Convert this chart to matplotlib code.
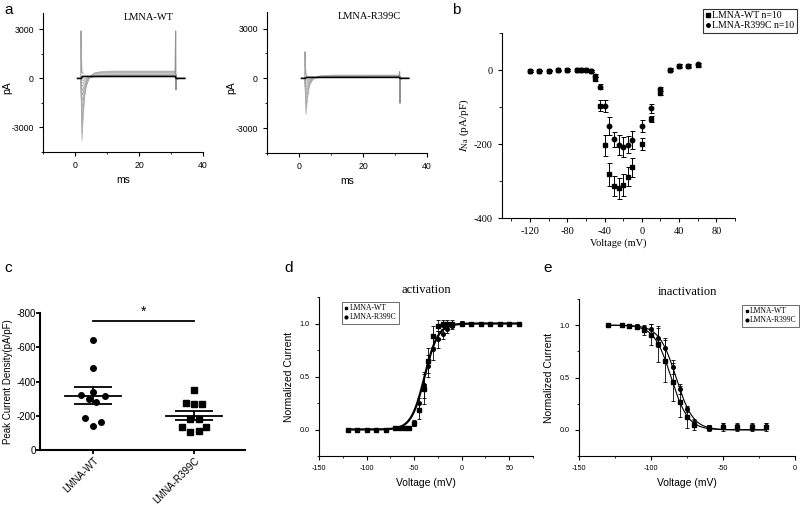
import numpy as np
import matplotlib
matplotlib.use("Agg")
import matplotlib.pyplot as plt
from matplotlib.ticker import MultipleLocator, FixedLocator
from matplotlib.lines import Line2D

plt.rcParams['axes.unicode_minus'] = False
plt.rcParams['mathtext.fontset'] = 'stix'
SANS = 'Liberation Sans'
SERIF = 'Liberation Serif'

# ---------------- a: whole-cell current traces ----------------
# template (ms, fraction of peak)
trace_t = [0.8, 1.8, 2.0, 2.2, 2.5, 3.0, 3.5, 4.5, 6.0, 8.0, 11.0]
inward_frac = [0, 0, 0.5, 1.0, 0.75, 0.42, 0.25, 0.1, 0.03, 0.01, 0]
steady_frac = [0, 0, 0, 0.3, 0.7, 1, 1, 1, 1, 1, 1]
step_end = 31.3

wt_peak = [-3950, -3500, -3000, -2500, -2000, -1500, -1100, -800, -550, -350, -200, -80, 0]
wt_slow = [1.0, 1.0, 1.05, 1.1, 1.2, 1.3, 1.5, 1.7, 1.9, 2.1, 2.3, 2.5, 1.0]
wt_steady = [450, 420, 400, 380, 350, 300, 250, 220, 200, 170, 140, 110, 120]
wt_cap_t = [1.8, 1.9, 2.0, 2.15, 2.5]
wt_cap_i = [0, 2900, 1200, 400, 300]
wt_tail_t = [31.3, 31.45, 31.55, 31.65, 31.8, 32.0, 34.3]
wt_tail_i = [300, 2900, -700, 200, -100, 0, 0]

r399c_peak = [-2250, -1900, -1600, -1300, -1000, -750, -550, -400, -280, -180, -100, -50, 0]
r399c_slow = [1.0, 1.0, 1.05, 1.1, 1.2, 1.3, 1.5, 1.7, 1.9, 2.1, 2.3, 2.5, 1.0]
r399c_steady = [200, 180, 160, 150, 130, 120, 110, 100, 90, 80, 60, 40, 60]
r399c_cap_t = [1.8, 1.9, 2.0, 2.15, 2.5]
r399c_cap_i = [0, 1600, 700, 250, 150]
r399c_tail_t = [31.3, 31.45, 31.55, 31.65, 31.8, 32.0, 34.3]
r399c_tail_i = [150, 400, -1500, 100, -80, 0, 0]

# ---------------- b: I-V relationship ----------------
iv_v = [-120, -110, -100, -90, -80, -70, -65, -60, -55, -50, -45, -40, -35,
        -30, -25, -20, -15, -10, 0, 10, 20, 30, 40, 50, 60]
iv_wt = [-3, -2, -2, -1, 0, 1, 1, 0, -3, -25, -97, -204, -282,
         -313, -320, -311, -288, -263, -201, -132, -62, 0, 10, 11, 14]
iv_wt_err = [2, 2, 2, 2, 2, 2, 2, 2, 3, 5, 15, 29, 32,
             27, 28, 30, 26, 25, 16, 9, 6, 4, 5, 5, 5]
iv_r399c = [-3, -2, -2, -1, 0, 1, 1, 0, -3, -16, -45, -97, -151,
            -187, -202, -209, -202, -190, -151, -104, -52, 1, 12, 12, 15]
iv_r399c_err = [2, 2, 2, 2, 2, 2, 2, 2, 3, 4, 6, 16, 24,
                20, 27, 27, 23, 24, 16, 12, 6, 4, 5, 5, 5]

# ---------------- c: peak current density ----------------
groups = ['LMNA-WT', 'LMNA-R399C']
wt_density = [-644, -478, -322, -341, -318, -297, -283, -185, -164, -140]
wt_jitter = [0, 0, -0.12, 0, 0.115, -0.043, 0.033, -0.08, 0.076, 0]
r399c_density = [-351, -273, -267, -267, -181, -181, -137, -137, -107, -111]
r399c_jitter = [0, -0.076, 0, 0.08, -0.04, 0.045, -0.115, 0.12, -0.04, 0.045]
density_mean = [-316, -201]
density_sem = [49, 27]

# ---------------- d: activation ----------------
act_v = [-120, -110, -100, -90, -80, -70, -65, -60, -55, -50, -45, -40, -35,
         -30, -25, -20, -15, -10, 0, 10, 20, 30, 40, 50, 60]
act_wt = [0, 0, 0, 0, 0, 0.01, 0.01, 0.01, 0.01, 0.06, 0.18, 0.38, 0.65,
          0.88, 0.98, 1.0, 1.0, 1.0, 1.0, 1.0, 1.0, 1.0, 1.0, 1.0, 1.0]
act_wt_err = [0, 0, 0, 0, 0, 0, 0, 0, 0, 0.03, 0.08, 0.14, 0.12,
              0.1, 0.05, 0.03, 0.03, 0.03, 0.02, 0, 0, 0, 0, 0, 0]
act_r399c = [0, 0, 0, 0, 0, 0.01, 0.01, 0.01, 0.01, 0.05, 0.25, 0.42, 0.6,
             0.76, 0.85, 0.9, 0.95, 0.98, 1.0, 1.0, 1.0, 1.0, 1.0, 1.0, 1.0]
act_r399c_err = [0, 0, 0, 0, 0, 0, 0, 0, 0, 0.02, 0.05, 0.12, 0.1,
                 0.1, 0.08, 0.05, 0.04, 0.03, 0.02, 0, 0, 0, 0, 0, 0]
act_fit = [-39.0, 7.0]  # V1/2, k

# ---------------- e: inactivation ----------------
inact_v = [-130, -120, -115, -110, -105, -100, -95, -90, -85, -80, -75, -70,
           -60, -50, -40, -30, -20]
inact_wt = [1.0, 1.0, 0.99, 0.98, 0.95, 0.91, 0.82, 0.66, 0.46, 0.27, 0.12, 0.05,
            0.02, 0.03, 0.03, 0.03, 0.03]
inact_wt_err = [0, 0, 0.02, 0.02, 0.04, 0.1, 0.17, 0.2, 0.18, 0.15, 0.1, 0.05,
                0.03, 0.04, 0.04, 0.04, 0.04]
inact_r399c = [1.0, 1.0, 0.99, 0.99, 0.97, 0.96, 0.88, 0.78, 0.6, 0.39, 0.2, 0.07,
               0.03, 0.04, 0.03, 0.03, 0.04]
inact_r399c_err = [0, 0, 0.02, 0.02, 0.03, 0.05, 0.09, 0.1, 0.07, 0.05, 0.03, 0.02,
                   0.02, 0.03, 0.03, 0.03, 0.03]
inact_fit_wt = [-86.0, 5.9]
inact_fit_r399c = [-82.6, 5.9]


fig = plt.figure(figsize=(8, 5.08), dpi=100)


def px_axes(l, t, r, b):
    return fig.add_axes([l / 800, 1 - b / 508, (r - l) / 800, (b - t) / 508])


def clean(ax, lw=0.8):
    ax.spines['top'].set_visible(False)
    ax.spines['right'].set_visible(False)
    for s in ['left', 'bottom']:
        ax.spines[s].set_linewidth(lw)


def trace_panel(ax, peaks, slows, steadies, cap_t, cap_i, tail_t, tail_i, name, name_x):
    tt = np.array(trace_t)
    for p, s, st in zip(peaks, slows, steadies):
        t_i = np.where(tt > 2.0, 2.0 + (tt - 2.0) * s, tt)
        y_i = p * np.array(inward_frac) + st * np.array(steady_frac)
        t_i = np.append(t_i, step_end)
        y_i = np.append(y_i, st)
        ax.plot(t_i, y_i, color='#a8a8a8', lw=0.45)
    ax.plot(cap_t, cap_i, color='#a0a0a0', lw=0.8)
    ax.plot(tail_t, tail_i, color='#909090', lw=0.8)
    ax.plot([trace_t[0], 2.0, 2.3, step_end, 31.6, 34.3],
            [0, 0, steadies[-1], steadies[-1], 0, 0], color='k', lw=1.2)
    ax.set_xlim(-10, 40)
    ax.set_ylim(-4500, 4000)
    ax.xaxis.set_major_locator(FixedLocator([0, 20, 40]))
    ax.xaxis.set_minor_locator(FixedLocator([-10, 10, 30]))
    ax.yaxis.set_major_locator(FixedLocator([-3000, 0, 3000]))
    ax.yaxis.set_minor_locator(FixedLocator([-4500, -1500, 1500]))
    clean(ax)
    ax.tick_params(which='major', length=3, width=0.8, labelsize=6.3)
    ax.tick_params(which='minor', length=1.5, width=0.6)
    for lab in ax.get_xticklabels() + ax.get_yticklabels():
        lab.set_family(SANS)
    ax.set_xlabel('ms', family=SANS, fontsize=7.5)
    ax.xaxis.set_label_coords(0.5, -0.165)
    ax.set_ylabel('pA', family=SANS, fontsize=7.5)
    ax.yaxis.set_label_coords(-0.19, 0.46)
    ax.text(name_x, 3700, name, family=SERIF, fontsize=7.5, ha='center', va='center')


ax_a1 = px_axes(43, 13, 203, 152)
trace_panel(ax_a1, wt_peak, wt_slow, wt_steady, wt_cap_t, wt_cap_i,
            wt_tail_t, wt_tail_i, 'LMNA-WT', 23)
ax_a2 = px_axes(267, 12, 427, 153)
trace_panel(ax_a2, r399c_peak, r399c_slow, r399c_steady, r399c_cap_t, r399c_cap_i,
            r399c_tail_t, r399c_tail_i, 'LMNA-R399C', 22)

# ---- b ----
ax_b = px_axes(502, 33, 735, 218)
eb = dict(color='k', ms=3.2, capsize=1.8, elinewidth=0.7, capthick=0.7, ls='none')
ax_b.errorbar(iv_v, iv_wt, yerr=iv_wt_err, fmt='s', **eb)
ax_b.errorbar(iv_v, iv_r399c, yerr=iv_r399c_err, fmt='o', **eb)
ax_b.set_xlim(-150, 100)
ax_b.set_ylim(-400, 100)
ax_b.xaxis.set_major_locator(FixedLocator([-120, -80, -40, 0, 40, 80]))
ax_b.xaxis.set_minor_locator(FixedLocator([-140, -100, -60, -20, 20, 60, 100]))
ax_b.yaxis.set_major_locator(FixedLocator([-400, -200, 0]))
ax_b.yaxis.set_minor_locator(FixedLocator([-300, -100, 100]))
clean(ax_b)
ax_b.tick_params(which='major', length=3, width=0.8, labelsize=7.5)
ax_b.tick_params(which='minor', length=2, width=0.6)
for lab in ax_b.get_xticklabels() + ax_b.get_yticklabels():
    lab.set_family(SERIF)
ax_b.set_xlabel('Voltage (mV)', family=SERIF, fontsize=7.5, labelpad=2)
ax_b.set_ylabel(r'$I_{\rm Na}$ (pA/pF)', family=SERIF, fontsize=8, labelpad=2)
hb = [Line2D([], [], marker='s', color='k', ls='none', ms=2.5),
      Line2D([], [], marker='o', color='k', ls='none', ms=2.5)]
leg = ax_b.legend(hb, ['LMNA-WT n=10', 'LMNA-R399C n=10'], loc='upper right',
                  bbox_to_anchor=(797 / 800, 1 - 9 / 508), bbox_transform=fig.transFigure,
                  prop={'family': SERIF, 'size': 7}, frameon=True, fancybox=False,
                  handlelength=0.5, handletextpad=0.2, borderpad=0.25, labelspacing=0.1,
                  borderaxespad=0)
leg.get_frame().set_edgecolor('k')
leg.get_frame().set_linewidth(0.8)

# ---- c ----
ax_c = px_axes(40, 313, 245, 450)
ax_c.plot(np.array(wt_jitter) + 0, wt_density, 'o', color='k', ms=4)
ax_c.plot(np.array(r399c_jitter) + 1, r399c_density, 's', color='k', ms=4)
for i in range(2):
    ax_c.plot([i - 0.28, i + 0.28], [density_mean[i]] * 2, color='k', lw=1.3)
    ax_c.errorbar([i], [density_mean[i]], yerr=[density_sem[i]], color='k',
                  capsize=14, elinewidth=1.3, capthick=1.3, ls='none')
ax_c.plot([0, 1], [-755, -755], color='k', lw=1.3)
ax_c.text(0.5, -765, '*', ha='center', va='bottom', fontsize=10, family=SANS)
ax_c.set_xlim(-0.525, 1.505)
ax_c.set_ylim(0, -800)
ax_c.set_yticks([0, -200, -400, -600, -800])
ax_c.set_xticks([0, 1])
ax_c.set_xticklabels(groups, rotation=45, ha='right', rotation_mode='anchor',
                     family=SANS, fontsize=7)
clean(ax_c, lw=1.5)
ax_c.tick_params(axis='y', length=3, width=1.3, labelsize=7, pad=0)
ax_c.tick_params(axis='x', length=3, width=1.3, pad=1)
for lab in ax_c.get_yticklabels():
    lab.set_family(SANS)
ax_c.set_ylabel('Peak Current Density(pA/pF)', family=SANS, fontsize=7)
ax_c.yaxis.set_label_coords(-0.13, 0.5)


def boltz_panel(ax, v, a, ae, b, be, title):
    eb2 = dict(color='k', ms=2.6, capsize=1.5, elinewidth=0.6, capthick=0.6, ls='none')
    ax.errorbar(v, a, yerr=ae, fmt='s', **eb2)
    ax.errorbar(v, b, yerr=be, fmt='o', **eb2)
    ax.set_ylim(-0.25, 1.25)
    ax.yaxis.set_major_locator(FixedLocator([0.0, 0.5, 1.0]))
    ax.yaxis.set_major_formatter(plt.FormatStrFormatter('%.1f'))
    ax.yaxis.set_minor_locator(MultipleLocator(0.25))
    ax.xaxis.set_major_locator(MultipleLocator(50))
    ax.xaxis.set_minor_locator(MultipleLocator(25))
    clean(ax)
    ax.tick_params(which='major', length=3, width=0.8, labelsize=5.2)
    ax.tick_params(which='minor', length=1.5, width=0.6)
    for lab in ax.get_xticklabels() + ax.get_yticklabels():
        lab.set_family(SANS)
    ax.set_xlabel('Voltage (mV)', family=SANS, fontsize=7.5, labelpad=4)
    ax.set_ylabel('Normalized Current', family=SANS, fontsize=7.5, labelpad=4)
    ax.set_title(title, family=SERIF, fontsize=9, pad=3)


# ---- d ----
ax_d = px_axes(319, 297, 533, 456)
ax_d.set_xlim(-150, 75)
boltz_panel(ax_d, act_v, act_wt, act_wt_err, act_r399c, act_r399c_err, 'activation')
vv = np.linspace(-120, 60, 300)
ax_d.plot(vv, 1 / (1 + np.exp((act_fit[0] - vv) / act_fit[1])), color='k', lw=1.6)
hd = [Line2D([], [], marker='s', color='k', ls='none', ms=2),
      Line2D([], [], marker='o', color='k', ls='none', ms=2)]
ld = ax_d.legend(hd, ['LMNA-WT', 'LMNA-R399C'], loc='upper left',
                 bbox_to_anchor=(342 / 800, 1 - 302 / 508), bbox_transform=fig.transFigure,
                 prop={'family': SERIF, 'size': 5.5}, fancybox=False, handlelength=0.5,
                 handletextpad=0.2, borderpad=0.3, labelspacing=0.15, borderaxespad=0)
ld.get_frame().set_edgecolor('#444444')
ld.get_frame().set_linewidth(0.7)

# ---- e ----
ax_e = px_axes(579, 299, 795, 456)
ax_e.set_xlim(-150, 0)
boltz_panel(ax_e, inact_v, inact_wt, inact_wt_err, inact_r399c, inact_r399c_err,
            'inactivation')
ve = np.linspace(-130, -20, 300)
for fit in [inact_fit_wt, inact_fit_r399c]:
    ax_e.plot(ve, 1 / (1 + np.exp((ve - fit[0]) / fit[1])), color='k', lw=0.8)
le = ax_e.legend(hd, ['LMNA-WT', 'LMNA-R399C'], loc='upper right',
                 bbox_to_anchor=(799 / 800, 1 - 305 / 508), bbox_transform=fig.transFigure,
                 prop={'family': SERIF, 'size': 5.5}, fancybox=False, handlelength=0.5,
                 handletextpad=0.2, borderpad=0.3, labelspacing=0.15, borderaxespad=0)
le.get_frame().set_edgecolor('#444444')
le.get_frame().set_linewidth(0.7)

# panel letters
for letter, x, y in [('a', 4, 10), ('b', 452, 10), ('c', 4, 268), ('d', 284, 268), ('e', 543, 268)]:
    fig.text(x / 800, 1 - y / 508, letter, family=SANS, fontsize=11, va='center', ha='left')

fig.savefig('out.png', dpi=100)
